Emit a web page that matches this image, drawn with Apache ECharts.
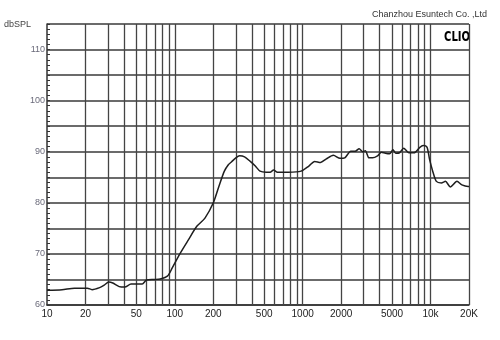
<!DOCTYPE html>
<html>
<head>
<meta charset="utf-8">
<script src="https://cdn.jsdelivr.net/npm/echarts@6/dist/echarts.min.js"></script>
<style>html,body{margin:0;padding:0;background:#fff}#c{width:500px;height:340px}</style>
</head>
<body>
<div id="c"></div>
<script>
// Frequency (Hz) and SPL (dB)
var freqs = [10, 13.1, 16.4, 20.7, 22.5, 25.8, 28, 30.4, 32.7, 36.7,
  40.6, 45.4, 50, 55.6, 60, 69, 76.9, 87.9, 95.2, 110,
  128, 148.5, 172, 200, 221, 244, 263, 277, 300, 321,
  351, 389, 426, 464, 519, 556, 592, 635, 770, 972,
  1118, 1241, 1379, 1532, 1738, 1959, 2133, 2378, 2579, 2765,
  2952, 3091, 3302, 3522, 3853, 4120, 4439, 4784, 5086, 5360,
  5721, 6165, 6774, 7448, 8207, 8757, 9383, 9830, 10457, 11110,
  12150, 13080, 14300, 16100, 17600, 19700, 20000];
var spl = [62.9, 63.0, 63.3, 63.3, 63.0, 63.4, 63.9, 64.5, 64.3, 63.6,
  63.5, 64.1, 64.1, 64.1, 64.9, 65.0, 65.1, 65.7, 67.2, 70.1,
  72.8, 75.4, 77.0, 80.0, 83.2, 86.2, 87.5, 88.0, 88.8, 89.2,
  89.0, 88.1, 87.2, 86.2, 86.0, 86.0, 86.4, 86.0, 86.0, 86.2,
  87.2, 88.1, 87.9, 88.6, 89.3, 88.7, 88.8, 90.1, 90.1, 90.6,
  90.0, 90.2, 88.8, 88.8, 89.2, 89.9, 89.7, 89.6, 90.4, 89.7,
  89.8, 90.7, 89.8, 89.8, 90.8, 91.2, 90.9, 88.5, 86.0, 84.2,
  83.9, 84.2, 83.1, 84.2, 83.5, 83.2, 83.2];
// Axis ticks / labels
var xLabelValues = [10, 20, 50, 100, 200, 500, 1000, 2000, 5000, 10000, 20000];
var xLabelTexts = ['10', '20', '50', '100', '200', '500', '1000', '2000', '5000', '10k', '20K'];
var xGridValues = [20, 30, 40, 50, 60, 70, 80, 90, 100, 200, 300, 400, 500, 600, 700, 800, 900,
  1000, 2000, 3000, 4000, 5000, 6000, 7000, 8000, 9000, 10000, 20000];
var yMin = 60, yMax = 115, yStep = 5;

var chart = echarts.init(document.getElementById('c'), null, {renderer: 'canvas'});
var gridColor = '#3a3a3a';
chart.setOption({
  animation: false,
  backgroundColor: '#fff',
  grid: {left: 47, right: 31, top: 24, bottom: 35},
  xAxis: {
    type: 'log', logBase: 10, min: 10, max: 20000,
    axisLine: {show: true, lineStyle: {color: '#333', width: 1.5}},
    axisTick: {show: false},
    splitLine: {show: false},
    minorTick: {show: false},
    axisLabel: {
      customValues: xLabelValues,
      color: '#222', fontSize: 10, fontFamily: 'Liberation Sans, Arial, sans-serif', margin: 4,
      formatter: function (v) { var i = xLabelValues.indexOf(Math.round(v)); return i >= 0 ? xLabelTexts[i] : ''; }
    }
  },
  yAxis: {
    type: 'value', min: yMin, max: yMax, interval: yStep,
    axisLine: {show: true, lineStyle: {color: '#333', width: 1.5}},
    axisTick: {show: true, inside: true, length: 3, lineStyle: {color: '#333'}},
    minorTick: {show: true, splitNumber: 5, length: 3, lineStyle: {color: '#333'}},
    splitLine: {show: true, lineStyle: {color: gridColor, width: 1.5}},
    axisLabel: {
      color: '#6a6a7a', fontSize: 9, fontFamily: 'Liberation Sans, Arial, sans-serif', margin: 2,
      formatter: function (v) { return v % 10 === 0 ? String(v) : ''; }
    }
  },
  graphic: [
    {type: 'text', left: 4, top: 20, style: {text: 'dbSPL', fill: '#444', fontSize: 9, fontFamily: 'Liberation Sans, Arial, sans-serif'}},
    {type: 'text', right: 13, top: 10, style: {text: 'Chanzhou Esuntech Co. ,Ltd', fill: '#333', fontSize: 9, fontFamily: 'Liberation Sans, Arial, sans-serif'}},
    {type: 'text', x: 444, y: 30, scaleX: 0.8, style: {text: 'CLIO', fill: '#000', fontSize: 14, fontWeight: 'bold', fontFamily: 'DejaVu Sans Condensed, DejaVu Sans, sans-serif'}}
  ],
  series: [{
    type: 'line',
    data: freqs.map(function (f, i) { return [f, spl[i]]; }),
    symbol: 'none',
    smooth: 0.25,
    lineStyle: {color: '#1e1e1e', width: 1.5},
    z: 5,
    markLine: {
      silent: true, symbol: 'none', animation: false,
      label: {show: false},
      lineStyle: {color: '#444', width: 1.3, type: 'solid'},
      data: xGridValues.map(function (v) { return {xAxis: v}; })
    }
  }]
});
</script>
</body>
</html>
